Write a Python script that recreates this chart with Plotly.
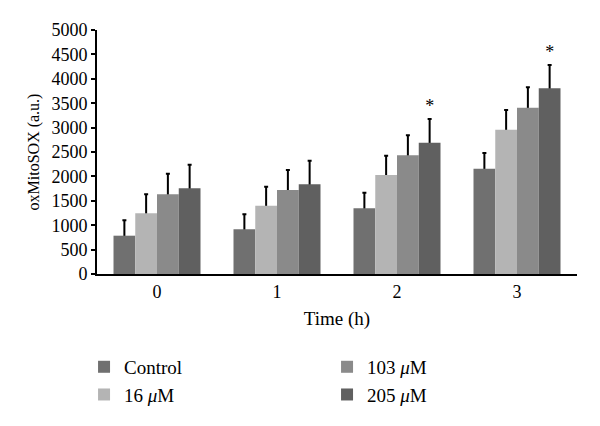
import plotly.graph_objects as go

times = ["0", "1", "2", "3"]
series_names = ["Control", "16 <i>μ</i>M", "103 <i>μ</i>M", "205 <i>μ</i>M"]
control = [785, 916, 1346, 2158]
c16 = [1243, 1400, 2029, 2957]
c103 = [1633, 1721, 2432, 3408]
c205 = [1756, 1838, 2691, 3805]
err_control = [315, 307, 320, 322]
err_16 = [390, 389, 395, 404]
err_103 = [422, 410, 410, 418]
err_205 = [484, 484, 485, 478]
sig_205 = ["", "", "*", "*"]
sig_none = ["", "", "", ""]

colors = ["#707070", "#b4b4b4", "#8a8a8a", "#606060"]
values = [control, c16, c103, c205]
errors = [err_control, err_16, err_103, err_205]
sigs = [sig_none, sig_none, sig_none, sig_205]

FONT = "Liberation Serif"
fig = go.Figure()

# error-bar carriers (transparent bars reaching the top of each error bar),
# drawn first so the real bars cover the part of the line inside them
for i in range(4):
    tops = [v + e for v, e in zip(values[i], errors[i])]
    fig.add_trace(go.Bar(
        x=times, y=tops, offsetgroup=str(i), showlegend=False,
        marker=dict(color="rgba(0,0,0,0)", line=dict(width=0)),
        error_y=dict(type="data", symmetric=False, array=[0] * 4,
                     arrayminus=tops, color="black", thickness=2, width=2),
        text=sigs[i], textposition="outside",
        textfont=dict(family=FONT, size=18, color="black"),
        cliponaxis=False, hoverinfo="skip",
    ))

legend_rank = [1, 3, 2, 4]
for i in range(4):
    fig.add_trace(go.Bar(
        x=times, y=values[i], offsetgroup=str(i), name=series_names[i],
        marker=dict(color=colors[i], line=dict(width=0)),
        legendrank=legend_rank[i],
    ))

fig.update_layout(
    width=600, height=426,
    margin=dict(l=89, r=31, t=22, b=160, autoexpand=False),
    paper_bgcolor="white", plot_bgcolor="white",
    barmode="group", bargap=0.275, bargroupgap=0,
    font=dict(family=FONT, size=17, color="black"),
    uniformtext=dict(mode="show", minsize=18),
    xaxis=dict(
        title=dict(text="Time (h)", font=dict(family=FONT, size=19), standoff=11),
        showline=True, linecolor="black", linewidth=2,
        ticks="", tickfont=dict(family=FONT, size=18), automargin=False,
    ),
    yaxis=dict(
        title=dict(text="oxMitoSOX (a.u.)", font=dict(family=FONT, size=16), standoff=8),
        range=[0, 5000], dtick=500, tick0=0,
        showline=True, linecolor="black", linewidth=2,
        ticks="outside", ticklen=4, tickwidth=1.5, tickcolor="black",
        showgrid=False, zeroline=False, tickfont=dict(family=FONT, size=18),
        automargin=False,
    ),
    legend=dict(
        orientation="h", x=-0.027, xanchor="left", y=-0.303, yanchor="top",
        entrywidth=198, entrywidthmode="pixels",
        font=dict(family=FONT, size=19), traceorder="normal",
        itemclick=False,
    ),
)

fig.write_html("out.html")
